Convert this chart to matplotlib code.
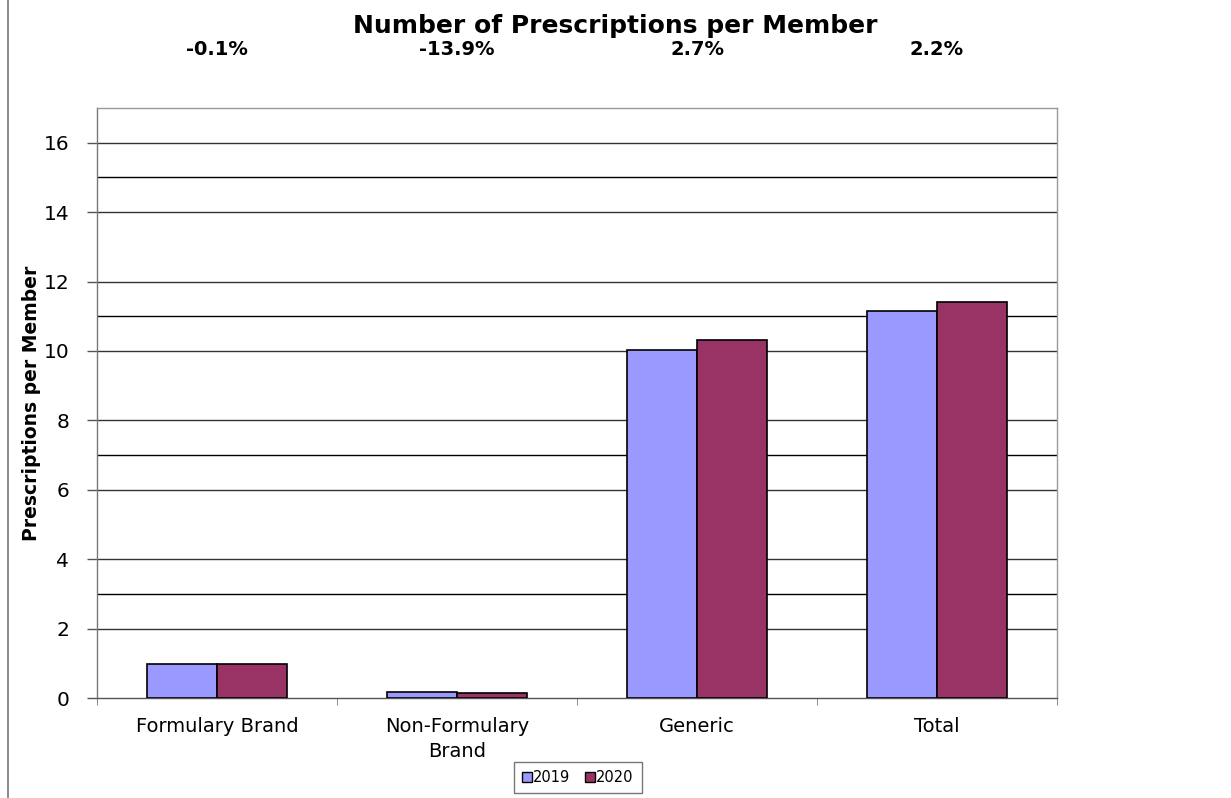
import numpy as np
import matplotlib.pyplot as plt
from matplotlib.lines import Line2D

plt.rcParams["font.family"] = ["DejaVu Sans"]

# ── Data ──────────────────────────────────────────────────────────────────────
CATEGORIES = ["Formulary Brand", "Non-Formulary\nBrand", "Generic", "Total"]
VALUES_2019 = [0.98, 0.165, 10.04, 11.14]
VALUES_2020 = [0.98, 0.142, 10.31, 11.40]
CHANGE_LABELS = ["-0.1%", "-13.9%", "2.7%", "2.2%"]
YTICKS = [0, 2, 4, 6, 8, 10, 12, 14, 16]
EXTRA_LINES = [3, 7, 11, 15]

COLOR_2019 = "#9999ff"
COLOR_2020 = "#993366"

# ── Plot ──────────────────────────────────────────────────────────────────────
fig = plt.figure(figsize=(12.31, 7.98), dpi=100)
ax = fig.add_axes([0.0788, 0.1253, 0.7799, 0.7394])

x = np.arange(len(CATEGORIES))
w = 0.29
ax.bar(x - w / 2, VALUES_2019, width=w, color=COLOR_2019,
       edgecolor="black", linewidth=1.2, zorder=3, label="2019")
ax.bar(x + w / 2, VALUES_2020, width=w, color=COLOR_2020,
       edgecolor="black", linewidth=1.2, zorder=3, label="2020")

for v in YTICKS[1:]:
    ax.axhline(v, color="#333333", linewidth=1.0, zorder=1)
for v in EXTRA_LINES:
    ax.axhline(v, color="black", linewidth=1.0, zorder=1)

ax.set_xlim(-0.5, len(CATEGORIES) - 0.5)
ax.set_ylim(0, 17)
ax.set_yticks(YTICKS)
ax.tick_params(axis="y", length=7, width=1, labelsize=14.5, pad=13, color="#555555")

ax.set_xticks(x)
ax.set_xticklabels(CATEGORIES, fontsize=14, linespacing=1.35)
ax.tick_params(axis="x", length=0, pad=14)
ax.set_xticks(np.arange(len(CATEGORIES) + 1) - 0.5, minor=True)
ax.tick_params(axis="x", which="minor", length=5, color="#777777")

for s in ax.spines.values():
    s.set_color("#999999")
    s.set_linewidth(1.0)
ax.spines["bottom"].set_color("#555555")
ax.spines["left"].set_color("#777777")

ax.set_ylabel("Prescriptions per Member", fontsize=13.5, fontweight="bold", labelpad=2)

for xi, lab in zip(x, CHANGE_LABELS):
    ax.text(xi, 1.0983, lab, transform=ax.get_xaxis_transform(),
            ha="center", va="center", fontsize=14, fontweight="bold")

fig.text(0.5, 0.968, "Number of Prescriptions per Member", ha="center", va="center",
         fontsize=18, fontweight="bold")

handles = [Line2D([], [], marker="s", linestyle="none", markersize=7,
                  markerfacecolor=COLOR_2019, markeredgecolor="black"),
           Line2D([], [], marker="s", linestyle="none", markersize=7,
                  markerfacecolor=COLOR_2020, markeredgecolor="black")]
fig.legend(handles, ["2019", "2020"], loc="center", bbox_to_anchor=(0.4695, 0.026),
           ncol=2, fontsize=10.5, frameon=True, fancybox=False, edgecolor="#555555",
           handlelength=0.6, handletextpad=0.1, columnspacing=1.1, borderpad=0.55)

# left border line
fig.add_artist(Line2D([0.0065, 0.0065], [0, 1], color="#777777", linewidth=1.2,
                      transform=fig.transFigure))

fig.savefig("out.png", dpi=100)
